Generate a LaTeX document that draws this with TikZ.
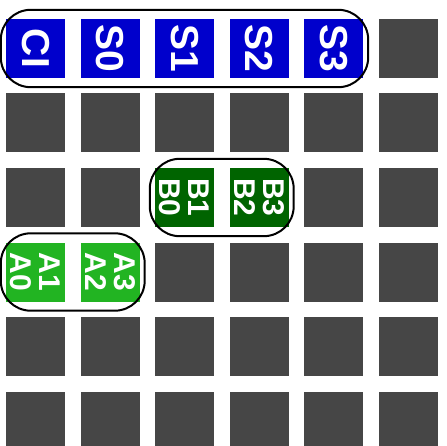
\documentclass[tikz,border=0pt]{standalone}
\usepackage{fontspec}
\setmainfont{Liberation Sans}
\usepackage{tikz}
\usetikzlibrary{fit}
\definecolor{cellgray}{HTML}{464646}
\definecolor{sumblue}{HTML}{0000CC}
\definecolor{bgreen}{HTML}{006400}
\definecolor{agreen}{HTML}{22B422}
\tikzset{cell/.style={fill=cellgray,minimum size=59pt,inner sep=0pt,rotate=-90,text=white},
  one/.style={font=\fontsize{39}{40}\selectfont\bfseries},
  two/.style={font=\fontsize{30}{29}\selectfont\bfseries,align=center},
  grp/.style={draw,line width=2pt,rounded corners=30pt,inner xsep=5pt,inner ysep=9pt}}

\begin{document}
\begin{tikzpicture}[x=1pt,y=-1pt]
\useasboundingbox (0,0) rectangle (446,446);
% row 0: carry in and sums
\node[cell,one,fill=sumblue] (ci) at (35.5,48.5) {CI}; \node[cell,one,fill=sumblue] (s0) at (110,48.5) {S0};
\node[cell,one,fill=sumblue] (s1) at (184.5,48.5) {S1}; \node[cell,one,fill=sumblue] (s2) at (259,48.5) {S2};
\node[cell,one,fill=sumblue] (s3) at (333.5,48.5) {S3}; \node[cell] (c05) at (408,48.5) {};
% row 1
\node[cell] (c10) at (35.5,123) {}; \node[cell] (c11) at (110,123) {}; \node[cell] (c12) at (184.5,123) {};
\node[cell] (c13) at (259,123) {}; \node[cell] (c14) at (333.5,123) {}; \node[cell] (c15) at (408,123) {};
% row 2: B inputs
\node[cell] (c20) at (35.5,197.5) {}; \node[cell] (c21) at (110,197.5) {};
\node[cell,two,fill=bgreen] (b10) at (184.5,197.5) {B1\\B0}; \node[cell,two,fill=bgreen] (b32) at (259,197.5) {B3\\B2};
\node[cell] (c24) at (333.5,197.5) {}; \node[cell] (c25) at (408,197.5) {};
% row 3: A inputs
\node[cell,two,fill=agreen] (a10) at (35.5,272) {A1\\A0}; \node[cell,two,fill=agreen] (a32) at (110,272) {A3\\A2};
\node[cell] (c32) at (184.5,272) {}; \node[cell] (c33) at (259,272) {};
\node[cell] (c34) at (333.5,272) {}; \node[cell] (c35) at (408,272) {};
% rows 4 and 5
\node[cell] (c40) at (35.5,346.5) {}; \node[cell] (c41) at (110,346.5) {}; \node[cell] (c42) at (184.5,346.5) {};
\node[cell] (c43) at (259,346.5) {}; \node[cell] (c44) at (333.5,346.5) {}; \node[cell] (c45) at (408,346.5) {};
\node[cell] (c50) at (35.5,421) {}; \node[cell] (c51) at (110,421) {}; \node[cell] (c52) at (184.5,421) {};
\node[cell] (c53) at (259,421) {}; \node[cell] (c54) at (333.5,421) {}; \node[cell] (c55) at (408,421) {};
% groups
\node[grp,fit=(ci)(s3)] (sgrp) {}; \node[grp,fit=(b10)(b32)] (bgrp) {}; \node[grp,fit=(a10)(a32)] (agrp) {};
\end{tikzpicture}
\end{document}
